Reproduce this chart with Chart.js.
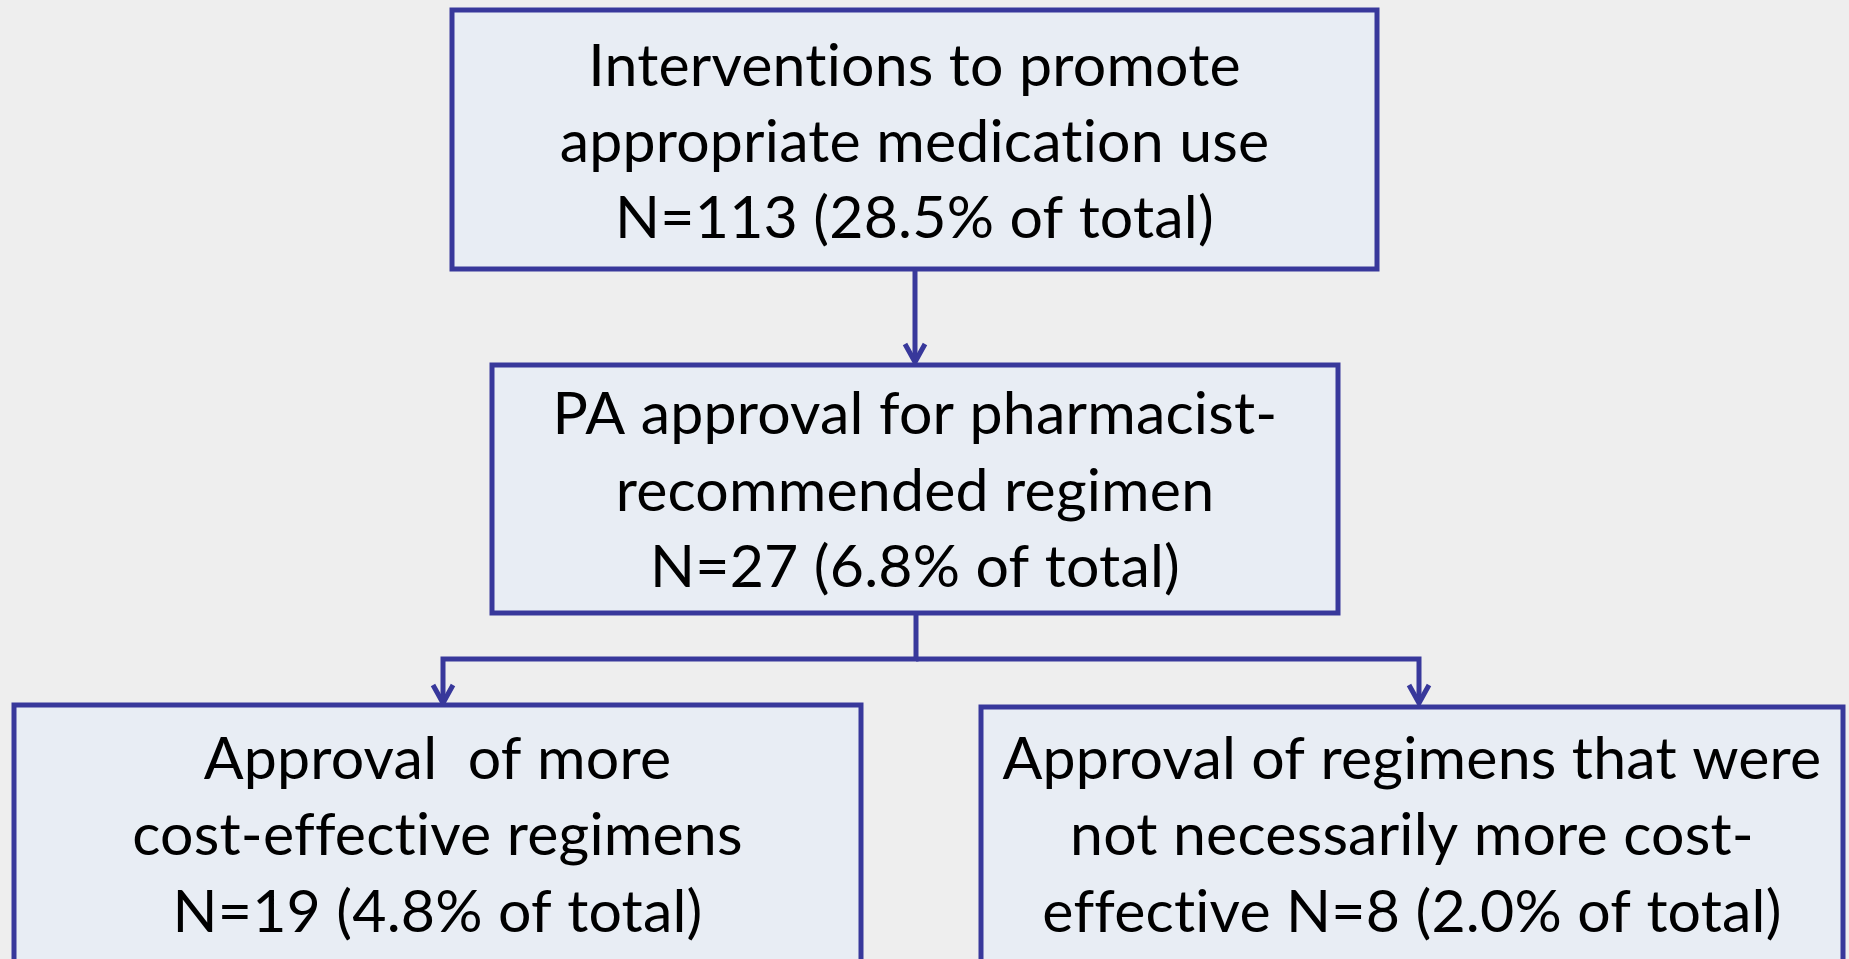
<!DOCTYPE html>
<html>
<head>
<meta charset="utf-8">
<script src="https://cdn.jsdelivr.net/npm/chart.js@4.4.0/dist/chart.umd.min.js"></script>
<style>
  html, body { margin: 0; padding: 0; background: #eeeeee; overflow: hidden; }
  #wrap { width: 1849px; height: 959px; }
</style>
</head>
<body>
<div id="wrap"><canvas id="flow"></canvas></div>
<script>
// flowchart content
const stepTitles = [
  ['Interventions to promote', 'appropriate medication use'],
  ['PA approval for pharmacist-', 'recommended regimen'],
  ['Approval  of more', 'cost-effective regimens'],
  ['Approval of regimens that were', 'not necessarily more cost-', 'effective']
];
const stepCounts = [113, 27, 19, 8];
const stepPercents = ['28.5', '6.8', '4.8', '2.0'];

// layout (in the 1849 x 959 coordinate space of the scales)
const boxRects = [
  [452, 10, 1377, 269],
  [492, 365, 1338, 613],
  [14, 705, 861, 990],
  [981, 707, 1843, 990]
];
const lineBaselines = [[86, 162, 238], [434, 511, 587], [779, 855, 932], [779, 855, 932]];
const connectors = [
  { pts: [[915, 269], [915, 362]], arrow: true },
  { pts: [[916, 613], [916, 659], [443, 659], [443, 703]], arrow: true },
  { pts: [[916, 659], [1419, 659], [1419, 703]], arrow: true }
];

const STROKE = '#38389b';
const FILL = '#e8edf4';
const FONT = '59px Lato';

function boxLines(i) {
  const lines = stepTitles[i].slice();
  const tail = 'N=' + stepCounts[i] + ' (' + stepPercents[i] + '% of total)';
  if (i === 3) lines[2] = lines[2] + ' ' + tail;
  else lines.push(tail);
  return lines;
}

const flowPlugin = {
  id: 'flow',
  afterDatasetsDraw(chart) {
    const c = chart.ctx;
    const xs = chart.scales.x, ys = chart.scales.y;
    const px = v => xs.getPixelForValue(v);
    const py = v => ys.getPixelForValue(v);
    c.save();
    c.lineWidth = 5;
    c.lineJoin = 'miter';
    c.strokeStyle = STROKE;
    // connectors
    connectors.forEach(cn => {
      c.beginPath();
      cn.pts.forEach((p, k) => k ? c.lineTo(px(p[0]), py(p[1])) : c.moveTo(px(p[0]), py(p[1])));
      c.stroke();
      if (cn.arrow) {
        const end = cn.pts[cn.pts.length - 1];
        const tx = px(end[0]), ty = py(end[1]);
        c.beginPath();
        c.moveTo(tx - 10, ty - 18);
        c.lineTo(tx, ty);
        c.lineTo(tx + 10, ty - 18);
        c.stroke();
      }
    });
    // boxes
    boxRects.forEach((r, i) => {
      const x0 = px(r[0]), y0 = py(r[1]), x1 = px(r[2]), y1 = py(r[3]);
      c.fillStyle = FILL;
      c.fillRect(x0, y0, x1 - x0, y1 - y0);
      c.strokeRect(x0, y0, x1 - x0, y1 - y0);
      c.fillStyle = '#000000';
      c.font = FONT;
      c.letterSpacing = '0.2px';  // also stops the "ti" ligature
      c.textAlign = 'center';
      c.textBaseline = 'alphabetic';
      const cx = (x0 + x1) / 2;
      boxLines(i).forEach((t, k) => c.fillText(t, cx, py(lineBaselines[i][k])));
    });
    c.restore();
  }
};

new Chart(document.getElementById('flow'), {
  type: 'scatter',
  data: { datasets: [{ data: [], pointRadius: 0 }] },
  options: {
    responsive: true,
    maintainAspectRatio: false,
    animation: false,
    layout: { padding: 0 },
    plugins: { legend: { display: false }, tooltip: { enabled: false } },
    scales: {
      x: { type: 'linear', min: 0, max: 1849, display: false },
      y: { type: 'linear', min: 0, max: 959, reverse: true, display: false }
    }
  },
  plugins: [flowPlugin]
});
</script>
</body>
</html>
